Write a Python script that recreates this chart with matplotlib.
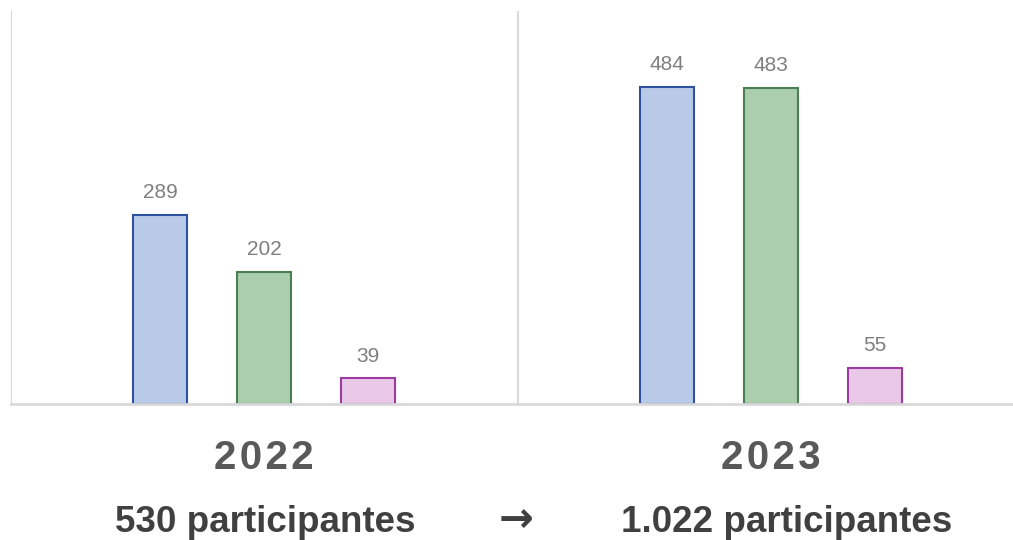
import matplotlib
matplotlib.use("Agg")
import matplotlib.pyplot as plt
import numpy as np

plt.rcParams['font.family'] = ['Liberation Sans', 'DejaVu Sans']

# data
years = ["2022", "2023"]
blue_vals = [289, 484]
green_vals = [202, 483]
pink_vals = [39, 55]
totals = ["530 participantes", "1.022 participantes"]

fills = ["#B9CAE9", "#AACEAE", "#EAC9E8"]
edges = ["#2F52A0", "#4B7F51", "#9C3C9E"]

fig = plt.figure(figsize=(10.13, 5.4), dpi=100)
ax = fig.add_axes([10.5 / 1013, 136 / 540, 1014 / 1013, 393 / 540])

x = np.arange(len(years))
w = 0.107
off = 0.205
series = [blue_vals, green_vals, pink_vals]
for i, vals in enumerate(series):
    bars = ax.bar(x + (i - 1) * off, vals, width=w, color=fills[i],
                  edgecolor=edges[i], linewidth=1.5, zorder=3)
    for b, v in zip(bars, vals):
        ax.annotate(str(v), (b.get_x() + b.get_width() / 2, v),
                    xytext=(0, 9), textcoords="offset points",
                    ha="center", va="bottom", fontsize=15, color="#7F7F7F")

ax.set_xlim(-0.5, 1.5)
ax.set_ylim(0, 600)
for xv in [-0.5, 0.5, 1.5]:
    ax.axvline(xv, color="#D9D9D9", linewidth=1.5, zorder=1)
ax.axhline(0, color="#D9D9D9", linewidth=2, zorder=4, clip_on=False)
for s in ax.spines.values():
    s.set_visible(False)
ax.set_xticks([])
ax.set_yticks([])

# year labels and totals below the axis
tot_x = [265, 787]
for xi, yr, tot, tx in zip(x, years, totals, tot_x):
    px = ax.transData.transform((xi, 0))[0] / fig.bbox.width
    fig.text(px, (540 - 469) / 540, "\u200a".join(yr), ha="center", va="baseline",
             fontsize=29, fontweight="bold", color="#595959")
    fig.text(tx / 1013, (540 - 532) / 540, tot, ha="center", va="baseline",
             fontsize=26.5, fontweight="bold", color="#404040")

fig.text(516 / 1013, (540 - 520) / 540, "\u2192", ha="center", va="center",
         fontsize=30, fontweight="bold", color="#404040", family="DejaVu Sans")

fig.savefig("out.png", dpi=100)
